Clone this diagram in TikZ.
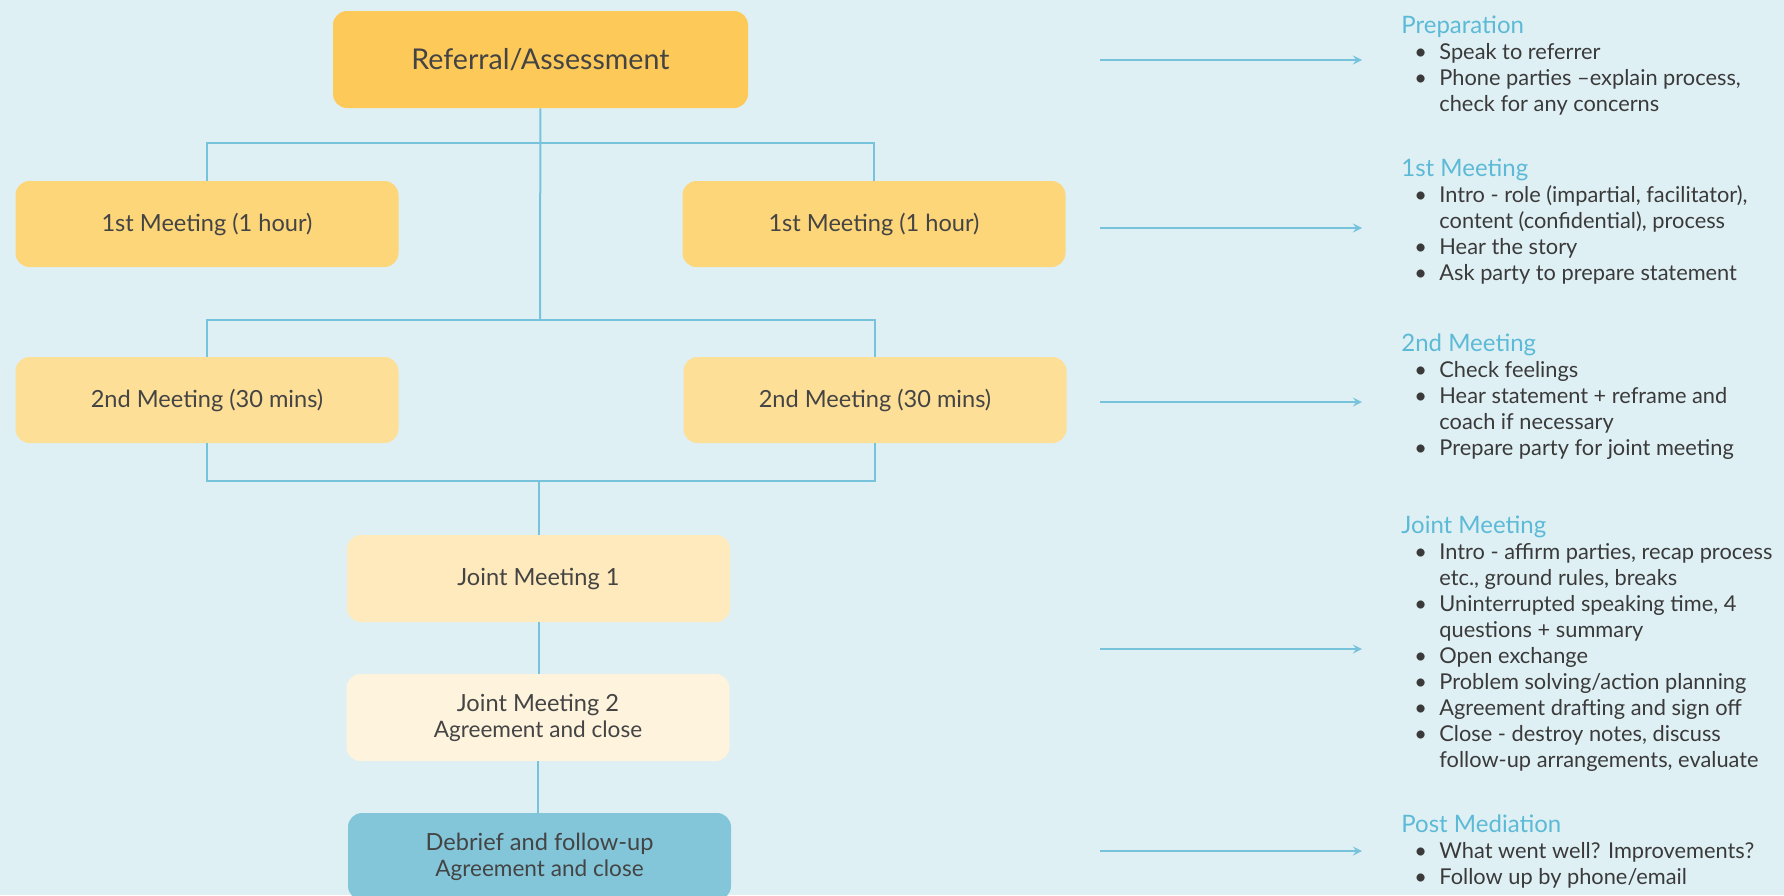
\documentclass[tikz,border=0pt]{standalone}
\usepackage{fontspec}
\setmainfont{Lato}
\usetikzlibrary{shapes}
\usetikzlibrary{arrows}

\definecolor{bgblue}{HTML}{DFF0F5}
\definecolor{linkblue}{HTML}{78C3DC}
\definecolor{headblue}{HTML}{5CBAD6}
\definecolor{boxtext}{HTML}{444444}
\definecolor{notetext}{HTML}{3A3A3A}
\definecolor{refgold}{HTML}{FDCA5A}
\definecolor{firstgold}{HTML}{FDD679}
\definecolor{secondgold}{HTML}{FDDF98}
\definecolor{jointone}{HTML}{FEEABC}
\definecolor{jointtwo}{HTML}{FEF3DD}
\definecolor{debriefblue}{HTML}{84C6D9}

\newcommand{\bul}{\makebox[19pt][l]{\hspace{6.5pt}\textbullet}}
\newcommand{\ind}{\hspace*{19pt}}
\newcommand{\head}[1]{{\color{headblue}\fontsize{12}{13}\selectfont #1}}
\newcommand{\sub}[1]{{\fontsize{11.3}{13}\selectfont #1}}

\begin{document}
\begin{tikzpicture}[x=0.5pt,y=-0.5pt]
	\tikzstyle{box}=[rectangle, rounded corners=7pt, minimum width=191.5pt, minimum height=43pt, text=boxtext, font=\fontsize{11.8}{13}\selectfont, align=center, inner sep=0pt]
	\tikzstyle{link}=[draw=linkblue, line width=1pt]
	\tikzstyle{flow}=[link, -stealth]
	\tikzstyle{notes}=[anchor=north west, align=left, inner sep=0pt, text=notetext, font=\fontsize{10.9}{13}\selectfont]

	\clip (0,0) rectangle (1784,895);
	\fill[bgblue] (0,0) rectangle (1784,895);

	% flow chart
	\node[box, fill=refgold, minimum width=207.5pt, minimum height=48.5pt, font=\fontsize{14.3}{16}\selectfont] (ref) at (540.5,59.5) {Referral/Assessment};
	\node[box, fill=firstgold] (firstA) at (207,224) {1st Meeting (1 hour)};
	\node[box, fill=firstgold] (firstB) at (874,224) {1st Meeting (1 hour)};
	\node[box, fill=secondgold] (secondA) at (207,400) {2nd Meeting (30 mins)};
	\node[box, fill=secondgold] (secondB) at (875,400) {2nd Meeting (30 mins)};
	\node[box, fill=jointone, minimum height=43.5pt] (jointA) at (538.5,578.5) {Joint Meeting 1};
	\node[box, fill=jointtwo, minimum height=43.5pt] (jointB) at (538,717.5) {Joint Meeting 2\\\sub{Agreement and close}};
	\node[box, fill=debriefblue, minimum height=43.5pt] (debrief) at (539.5,856.5) {Debrief and follow-up\\\sub{Agreement and close}};

	\coordinate (splitA) at (540,143);
	\coordinate (splitB) at (540,320);
	\coordinate (merge) at (539,481);

	\draw[link] (ref) -- (splitB);
	\draw[link] (firstA.north) |- (splitA) -| (firstB.north);
	\draw[link] (secondA.north) |- (splitB) -| (secondB.north);
	\draw[link] (secondA.south) |- (merge) -| (secondB.south);
	\draw[link] (merge) -- (merge |- jointA.north);
	\draw[link] (jointA.south) -- (jointA.south |- jointB.north);
	\draw[link] (jointB.south) -- (jointB.south |- debrief.north);

	% arrows to the notes
	\foreach \y [count=\i] in {60,228,402,649,851}
	{
		\coordinate (from\i) at (1100,\y);
		\coordinate (to\i) at (1362,\y);
		\draw[flow] (from\i) -- (to\i);
	}

	% notes
	\node[notes] (prep) at (1401,16) {\head{Preparation}\\
		\bul Speak to referrer\\
		\bul Phone parties –explain process,\\
		\ind check for any concerns};
	\node[notes] (noteA) at (1401,159) {\head{1st Meeting}\\
		\bul Intro - role (impartial, facilitator),\\
		\ind content (confidential), process\\
		\bul Hear the story\\
		\bul Ask party to prepare statement};
	\node[notes] (noteB) at (1401,333) {\head{2nd Meeting}\\
		\bul Check feelings\\
		\bul Hear statement + reframe and\\
		\ind coach if necessary\\
		\bul Prepare party for joint meeting};
	\node[notes] (noteC) at (1401,515) {\head{Joint Meeting}\\
		\bul Intro - affirm parties, recap process\\
		\ind etc., ground rules, breaks\\
		\bul Uninterrupted speaking time, 4\\
		\ind questions + summary\\
		\bul Open exchange\\
		\bul Problem solving/action planning\\
		\bul Agreement drafting and sign off\\
		\bul Close - destroy notes, discuss\\
		\ind follow-up arrangements, evaluate};
	\node[notes] (post) at (1401,814) {\head{Post Mediation}\\
		\bul What went well? Improvements?\\
		\bul Follow up by phone/email};
\end{tikzpicture}
\end{document}
